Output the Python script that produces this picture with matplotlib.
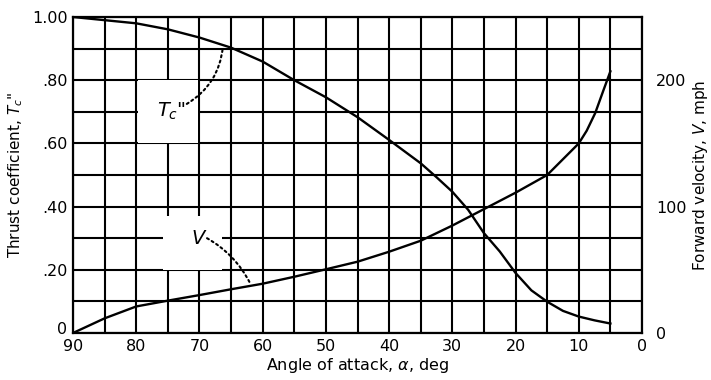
import numpy as np
import matplotlib.pyplot as plt
import matplotlib.transforms as mtransforms
from matplotlib.patches import Rectangle

# thrust coefficient vs angle of attack
alpha_tc = [90, 85, 80, 75, 70, 65, 60, 55, 50, 45, 40, 35, 32.5, 30, 27.5, 25,
            22.5, 20, 17.5, 15, 12.5, 10, 7.5, 5]
tc = [1.00, 0.99, 0.98, 0.961, 0.935, 0.903, 0.859, 0.80, 0.746, 0.683, 0.611,
      0.537, 0.493, 0.447, 0.39, 0.316, 0.258, 0.19, 0.135, 0.099, 0.07, 0.052,
      0.04, 0.03]

# forward velocity (mph) vs angle of attack
alpha_v = [90, 85, 80, 75, 70, 65, 60, 55, 50, 45, 40, 35, 30, 25, 20, 15, 10,
           8.75, 7.4, 6.1, 5]
vel = [0, 11.6, 21, 25.6, 30, 34.6, 39, 44.5, 50.4, 56.4, 64.3, 73, 85, 98, 111,
       125, 150, 160, 174, 192, 207]

x_labels = ['90', '80', '70', '60', '50', '40', '30', '20', '10', '0']
tc_labels = ['0', '.20', '.40', '.60', '.80', '1.00']
v_labels = ['0', '100', '200']

fs = 11.5
plt.rcParams['font.family'] = 'DejaVu Sans'

fig = plt.figure(figsize=(7.11, 3.8), dpi=100)
ax = fig.add_axes([73/711, 47/380, 569/711, 316/380])

ax.set_xlim(90, 0)
ax.set_ylim(0, 1.0)
ax.set_xticks(np.arange(90, -1, -5))
ax.set_xticklabels([x_labels[i // 2] if i % 2 == 0 else '' for i in range(19)])
ax.set_yticks(np.round(np.arange(0, 1.01, 0.1), 2))
ax.set_yticklabels([tc_labels[i // 2] if i % 2 == 0 else '' for i in range(11)])
ax.tick_params(length=0, labelsize=fs, pad=4)
ax.grid(True, color='black', lw=1.5)
ax.set_axisbelow(True)
for s in ax.spines.values():
    s.set_linewidth(1.6)

# nudge the corner zero up so it clears the 90
zero = ax.get_yticklabels()[0]
zero.set_transform(zero.get_transform() +
                   mtransforms.ScaledTranslation(0, 5/100, fig.dpi_scale_trans))

# label boxes blank out the grid behind the callouts
ax.add_patch(Rectangle((79.7, 0.6), -9.4, 0.2, facecolor='white', edgecolor='none', zorder=1.5))
ax.add_patch(Rectangle((75.8, 0.2), -9.3, 0.17, facecolor='white', edgecolor='none', zorder=1.5))

ax.plot(alpha_tc, tc, color='black', lw=1.7, zorder=3)

ax2 = ax.twinx()
ax2.set_ylim(0, 250)
ax2.set_yticks([0, 100, 200])
ax2.set_yticklabels(v_labels)
ax2.tick_params(length=0, labelsize=fs, pad=10)
for s in ax2.spines.values():
    s.set_visible(False)
ax2.plot(alpha_v, vel, color='black', lw=1.7, zorder=3)

ax.text(74.4, 0.70, r'$T_c$"', fontsize=14, ha='center', va='center', zorder=4)
ax.annotate('', xy=(66.3, 0.905), xytext=(72.0, 0.725),
            arrowprops=dict(arrowstyle='-', linestyle=(0, (1, 1.6)), lw=1.5,
                            connectionstyle='arc3,rad=0.25', shrinkA=0, shrinkB=0))
ax.text(70.0, 0.30, r'$V$', fontsize=14, ha='center', va='center', zorder=4)
ax.annotate('', xy=(62.0, 0.158), xytext=(68.8, 0.30),
            arrowprops=dict(arrowstyle='-', linestyle=(0, (1, 1.6)), lw=1.5,
                            connectionstyle='arc3,rad=-0.15', shrinkA=0, shrinkB=0))

ax.set_xlabel(r'Angle of attack, $\alpha$, deg', fontsize=fs, labelpad=2)
ax.set_ylabel(r'Thrust coefficient, $T_c$"', fontsize=11, labelpad=5)
ax2.set_ylabel(r'Forward velocity, $V$, mph', fontsize=11, labelpad=3)

fig.savefig('out.png', dpi=100)
